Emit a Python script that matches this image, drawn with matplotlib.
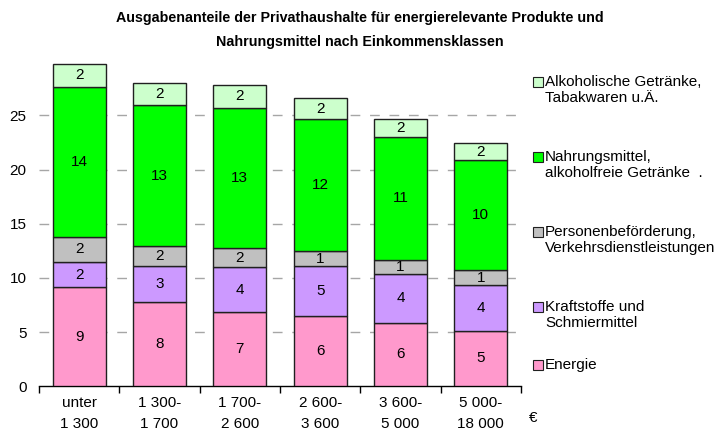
import matplotlib
matplotlib.use("Agg")
import matplotlib.pyplot as plt
from matplotlib.patches import Rectangle
import numpy as np

plt.rcParams['font.family'] = ['Liberation Sans', 'DejaVu Sans']

classes = ['unter\n1 300', '1 300-\n1 700', '1 700-\n2 600',
           '2 600-\n3 600', '3 600-\n5 000', '5 000-\n18 000']

energie     = [9.13, 7.78, 6.85, 6.46, 5.87, 5.13]
kraftstoffe = [2.36, 3.35, 4.13, 4.64, 4.46, 4.19]
personen    = [2.26, 1.81, 1.75, 1.35, 1.35, 1.41]
nahrung     = [13.9, 13.01, 12.95, 12.21, 11.32, 10.12]
alkohol     = [2.06, 2.03, 2.14, 1.91, 1.63, 1.61]

series = [energie, kraftstoffe, personen, nahrung, alkohol]
names = ['Energie',
         'Kraftstoffe und\nSchmiermittel',
         'Personenbeförderung,\nVerkehrsdienstleistungen',
         'Nahrungsmittel,\nalkoholfreie Getränke  .',
         'Alkoholische Getränke,\nTabakwaren u.Ä.']
colors = ['#FF99CC', '#CC99FF', '#C0C0C0', '#00FF00', '#CCFFCC']

W, H = 717, 437
fs = 11
fig = plt.figure(figsize=(W / 100, H / 100), dpi=100)
ax = fig.add_axes([39 / W, 1 - 386.3 / H, (521 - 39) / W, (386.3 - 61.1) / H])

x = np.arange(len(classes))
bottom = np.zeros(len(classes))
for vals, col in zip(series, colors):
    vals = np.array(vals)
    ax.bar(x, vals, bottom=bottom, width=0.66, color=col,
           edgecolor='#202020', linewidth=1, zorder=3)
    for xi, b, v in zip(x, bottom, vals):
        ax.text(xi, b + v / 2, str(int(round(v))), ha='center', va='center',
                fontsize=fs, zorder=4)
    bottom += vals

ax.set_xlim(-0.5, len(classes) - 0.5)
ax.set_ylim(0, 30)
ax.set_yticks([0, 5, 10, 15, 20, 25])
ax.set_xticks(x)
ax.set_xticklabels(classes, linespacing=1.65)
ax.set_xticks(np.arange(-0.5, len(classes)), minor=True)
ax.tick_params(axis='x', which='major', length=0, pad=7, labelsize=fs)
ax.tick_params(axis='x', which='minor', length=5, width=1, direction='out')
ax.tick_params(axis='y', length=0, pad=9, labelsize=fs)

for s in ['left', 'right', 'top']:
    ax.spines[s].set_visible(False)
ax.spines['bottom'].set_linewidth(1)

for yv in [5, 10, 15, 20, 25]:
    ax.axhline(yv, color='#A6A6A6', linewidth=1, dashes=(7, 7), zorder=1)

fig.text(360 / W, 1 - 18 / H,
         'Ausgabenanteile der Privathaushalte für energierelevante Produkte und',
         ha='center', va='center', fontsize=10.25, fontweight='bold')
fig.text(360 / W, 1 - 42 / H, 'Nahrungsmittel nach Einkommensklassen',
         ha='center', va='center', fontsize=10.25, fontweight='bold')

fig.text(533 / W, 1 - 418 / H, '€', ha='center', va='center', fontsize=fs)

# legend drawn by hand, top entry first
legend_y = [82, 157, 232, 307, 365]
for yy, name, col in zip(legend_y, names[::-1], colors[::-1]):
    fig.add_artist(Rectangle((533 / W, 1 - (yy + 5) / H), 10 / W, 10 / H,
                             transform=fig.transFigure, facecolor=col,
                             edgecolor='#202020', linewidth=0.8))
    fig.text(545 / W, 1 - (yy - 7) / H, name, ha='left', va='top',
             fontsize=fs, linespacing=1.2)

fig.savefig('out.png', dpi=100)
